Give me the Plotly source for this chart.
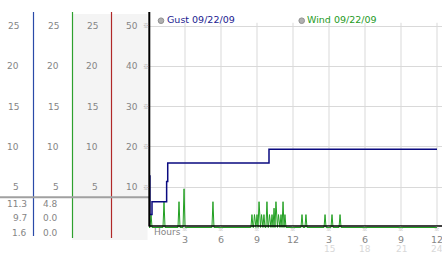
import plotly.graph_objects as go

# ---------------- data ----------------
gust_hours = [0.0, 0.08, 0.25, 1.47, 1.56, 10.0, 24.0]
gust_mph = [6.4, 1.6, 3.2, 5.7, 8.0, 9.7, 9.7]

wind_spike_hours = [0.17, 1.25, 2.5, 2.92, 5.33,
                    8.58, 8.79, 9.0, 9.17, 9.38, 9.58, 9.83, 10.04, 10.25,
                    10.42, 10.58, 10.79, 11.0, 11.17, 11.33,
                    12.75, 13.08, 14.67, 15.25, 15.92]
wind_spike_mph = [1.6, 3.2, 3.2, 4.8, 3.2,
                  1.6, 1.6, 1.6, 3.2, 1.6, 1.6, 3.2, 1.6, 1.6,
                  2.4, 3.2, 1.6, 1.6, 3.2, 1.6,
                  1.6, 1.6, 1.6, 1.6, 1.6]

col_scale_labels = ["25", "20", "15", "10", "5"]
col_scale_values = [25, 20, 15, 10, 5]
col4_labels = ["50", "40", "30", "20", "10"]
gust_stats = ["11.3", "9.7", "1.6"]
wind_stats = ["4.8", "0.0", "0.0"]
hour_ticks = [3, 6, 9, 12, 15, 18, 21, 24]
hour_labels = ["3", "6", "9", "12", "3", "6", "9", "12"]
hour_labels2 = ["", "", "", "", "15", "18", "21", "24"]
gust_name = "Gust 09/22/09"
wind_name = "Wind 09/22/09"

# ---------------- layout helpers ----------------
W, H = 442, 253
def px(x): return x / W
def py(y): return 1 - y / H

K = 8.06          # pixels per mph
Y0 = 227.5        # pixel row of value 0
X0 = 149          # pixel column of hour 0
KX = 12           # pixels per hour

FONT = "DejaVu Sans"
GRAY = "#858585"

# build wind series (zero between spikes)
hw = 0.085
wx, wy = [0.0], [0.0]
for t, v in zip(wind_spike_hours, wind_spike_mph):
    wx += [t - hw, t, t + hw]
    wy += [0.0, v, 0.0]
wx.append(24.0)
wy.append(0.0)

fig = go.Figure()
fig.add_trace(go.Scatter(x=wx, y=wy, mode="lines", name=wind_name,
                         line=dict(color="#22a022", width=1), showlegend=False))
fig.add_trace(go.Scatter(x=gust_hours, y=gust_mph, mode="lines", name=gust_name,
                         line=dict(color="#0a0a80", width=1.5, shape="hv"),
                         showlegend=False))

shapes = []
shapes.append(dict(type="rect", xref="paper", yref="paper", x0=px(72), x1=px(147.5),
                   y0=py(240), y1=py(14), fillcolor="#f4f4f4", line_width=0, layer="below"))
for h in hour_ticks:
    shapes.append(dict(type="line", xref="x", yref="y", x0=h, x1=h, y0=0, y1=25.4,
                       line=dict(color="#d9d9d9", width=1), layer="below"))
for xx, col, ybot in [(33.5, "#2a4aa8", 236), (72.5, "#2ea02e", 238), (111.5, "#b02828", 238)]:
    shapes.append(dict(type="line", xref="paper", yref="paper", x0=px(xx), x1=px(xx),
                       y0=py(ybot), y1=py(12), line=dict(color=col, width=1.2)))
shapes.append(dict(type="line", xref="paper", yref="paper", x0=0, x1=px(149),
                   y0=py(197.3), y1=py(197.3), line=dict(color="#a0a0a0", width=2)))
shapes.append(dict(type="line", xref="paper", yref="paper", x0=px(149.3), x1=px(149.3),
                   y0=py(226.5), y1=py(12), line=dict(color="black", width=2), layer="above"))
shapes.append(dict(type="line", xref="paper", yref="paper", x0=px(149), x1=1,
                   y0=py(226), y1=py(226), line=dict(color="black", width=1.6), layer="above"))
for cx in [161, 301.7]:
    shapes.append(dict(type="circle", xref="paper", yref="paper",
                       x0=px(cx - 2.8), x1=px(cx + 2.8), y0=py(20.7 + 2.8), y1=py(20.7 - 2.8),
                       fillcolor="#b0b0b0", line=dict(color="#909090", width=1)))

ann = []
def txt(x, y, s, color=GRAY, size=9, xanchor="right", family=FONT):
    ann.append(dict(x=x, y=y, xref="paper", yref="paper", text=s, showarrow=False,
                    xanchor=xanchor, yanchor="middle", borderpad=0,
                    font=dict(family=family, size=size, color=color)))

MARK = "※"
MARKFONT = "Noto Sans CJK JP"
for lab, v in zip(col_scale_labels, col_scale_values):
    yy = py(Y0 - v * K)
    txt(px(19.5), yy, lab)
    txt(px(60), yy, lab)
    txt(px(99), yy, lab)
for lab, v in zip(col4_labels, col_scale_values):
    yy = py(Y0 - v * K)
    txt(px(138.5), yy, lab)
    txt(px(145.5), yy, MARK, color="#a0a0a0", size=6, xanchor="center", family=MARKFONT)

for s, yy in zip(gust_stats, [204, 218, 232.5]):
    txt(px(28), py(yy), s)
for s, yy in zip(wind_stats, [204, 218, 232.5]):
    txt(px(59), py(yy), s)

txt(px(153), py(232), "Hours", color=GRAY, size=9, xanchor="left")
for h, l1, l2 in zip(hour_ticks, hour_labels, hour_labels2):
    xx = px(X0 + h * KX)
    txt(xx, py(229.3), MARK, color="#a0a0a0", size=5.5, xanchor="center", family=MARKFONT)
    txt(xx, py(239), l1, color=GRAY, size=9.5, xanchor="center")
    if l2:
        txt(xx, py(248.5), l2, color="#d8d8d8", size=9, xanchor="center")

txt(px(165.5), py(20), gust_name, color="#1a1a90", size=9.5, xanchor="left")
txt(px(306), py(20), wind_name, color="#1e9a1e", size=9.5, xanchor="left")

fig.update_layout(
    width=W, height=H, margin=dict(l=0, r=0, t=0, b=0),
    paper_bgcolor="white", plot_bgcolor="rgba(0,0,0,0)",
    shapes=shapes, annotations=ann,
    xaxis=dict(domain=[px(X0), 1], range=[0, (W - X0) / KX], showgrid=False,
               zeroline=False, showticklabels=False, ticks="", fixedrange=True),
    yaxis=dict(domain=[py(230), py(12)], range=[-(230 - Y0) / K, (Y0 - 12) / K],
               tickvals=col_scale_values, showgrid=True, gridcolor="#d9d9d9", gridwidth=1,
               zeroline=False, showticklabels=False, ticks="", fixedrange=True),
)

fig.write_html("out.html")
